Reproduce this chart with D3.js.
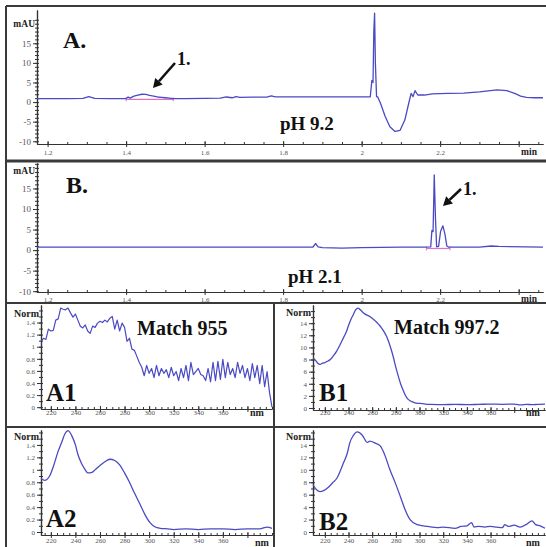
<!DOCTYPE html>
<html><head><meta charset="utf-8">
<script src="https://cdn.jsdelivr.net/npm/d3@7"></script>
<style>
body{margin:0;background:#fff}
svg{display:block}
text{font-family:"Liberation Serif","Times New Roman",serif}
</style>
</head><body>
<svg id="c" width="546" height="547"></svg>
<script>
// ---------------- DATA ----------------
// Chromatogram A (pH 9.2): [time (min), mAU]
const chromA = [[1.173,0.9],[1.25,0.9],[1.29,0.95],[1.305,1.4],[1.32,0.95],[1.36,0.9],[1.40,0.9],[1.405,1.3],[1.41,1.0],
 [1.42,1.5],[1.43,1.8],[1.44,2.0],[1.45,1.95],[1.46,1.7],[1.47,1.5],[1.48,1.3],[1.49,1.2],[1.50,1.1],[1.51,1.0],[1.52,0.9],
 [1.55,0.9],[1.60,0.95],[1.64,1.0],[1.655,1.3],[1.67,1.1],[1.68,1.4],[1.69,1.2],[1.72,1.25],[1.76,1.3],[1.77,1.6],[1.78,1.35],
 [1.85,1.35],[1.95,1.35],[2.022,1.35],[2.026,5.5],[2.029,5.0],[2.031,18],[2.033,22.7],[2.035,10],[2.038,1.4],[2.041,1.3],
 [2.048,-0.3],[2.06,-3.7],[2.072,-6.3],[2.085,-7.5],[2.098,-7.2],[2.11,-4.6],[2.12,-0.3],[2.126,2.2],[2.131,1.4],[2.136,2.9],
 [2.143,1.8],[2.16,1.8],[2.18,2.1],[2.22,2.2],[2.26,2.3],[2.30,2.6],[2.345,3.1],[2.37,2.9],[2.39,2.2],[2.405,1.5],[2.42,1.2],[2.44,1.1],[2.462,1.1]];
// Chromatogram B (pH 2.1)
const chromB = [[1.173,0.7],[1.5,0.7],[1.8,0.7],[1.876,0.75],[1.883,1.6],[1.889,0.8],[1.9,0.6],[1.95,0.5],[2.0,0.6],[2.1,0.7],
 [2.16,0.7],[2.176,0.8],[2.179,4.8],[2.182,4.5],[2.185,18.3],[2.188,8],[2.191,0.8],[2.196,0.9],[2.201,4.5],[2.207,5.9],
 [2.212,4.0],[2.217,1.0],[2.222,0.7],[2.30,0.7],[2.33,1.0],[2.35,0.9],[2.462,0.7]];
const integA = [[1.40,0.7],[1.52,0.7]];
const integB = [[2.165,0.4],[2.225,0.4]];

const chromXTicks = [1.2,1.4,1.6,1.8,2.0,2.2,2.4];
const chromXLabels = ["1.2","1.4","1.6","1.8","2","2.2",""];
const chromYTicks = [-10,-5,0,5,10,15];

// UV spectra: [wavelength (nm), Norm]
const specA1 = [[212,1.09],[214,1.14],[216,1.12],[218,1.29],[220,1.26],[222,1.27],[224,1.44],[226,1.46],[228,1.64],[230,1.62],
 [232,1.61],[234,1.64],[236,1.56],[238,1.49],[240,1.54],[242,1.44],[244,1.34],[246,1.31],[248,1.36],[250,1.26],[252,1.22],
 [254,1.34],[256,1.32],[258,1.39],[260,1.42],[262,1.4],[264,1.44],[266,1.41],[268,1.47],[270,1.5],[272,1.29],[274,1.44],
 [276,1.26],[278,1.39],[280,1.32],[282,1.09],[284,1.14],[286,0.96],[288,0.94],[290,0.84],[292,0.74],[294,0.66],[296,0.52],
 [298,0.69],[300,0.56],[302,0.64],[304,0.49],[306,0.69],[308,0.52],[310,0.64],[312,0.56],[314,0.62],[316,0.49],[318,0.66],
 [320,0.52],[322,0.59],[324,0.44],[326,0.64],[328,0.49],[330,0.69],[332,0.44],[334,0.74],[336,0.54],[338,0.59],[340,0.64],
 [342,0.54],[344,0.52],[346,0.44],[348,0.64],[350,0.42],[352,0.74],[354,0.44],[356,0.76],[358,0.46],[360,0.79],[362,0.49],
 [364,0.74],[366,0.54],[368,0.64],[370,0.49],[372,0.74],[374,0.56],[376,0.69],[378,0.49],[380,0.64],[382,0.44],[384,0.72],
 [386,0.49],[388,0.69],[390,0.39],[392,0.69],[394,0.34],[396,0.59],[398,0.24],[400,0.0]];
const specB1 = [[210,8.3],[212,7.9],[214,7.4],[216,7.2],[218,7.4],[220,7.5],[222,7.7],[224,7.9],[226,8.3],[228,8.8],
 [230,9.4],[232,10.1],[234,10.9],[236,11.7],[238,12.5],[240,13.6],[242,14.6],[244,15.4],[246,16.2],[248,16.5],[250,16.2],
 [252,15.8],[254,15.5],[256,15.3],[258,15.1],[260,14.8],[262,14.5],[264,14.1],[266,13.7],[268,13.2],[270,12.6],[272,11.9],
 [274,10.9],[276,9.7],[278,8.3],[280,6.7],[282,5.3],[284,4.0],[286,3.0],[288,2.1],[290,1.5],[292,1.2],[294,1.0],[296,0.85],
 [300,0.75],[305,0.65],[310,0.6],[320,0.55],[330,0.6],[340,0.55],[350,0.6],[360,0.65],[370,0.6],[380,0.65],[386,0.5],
 [390,0.6],[395,0.55],[400,0.6],[406,0.65]];
const specA2 = [[212,0.86],[215,0.83],[219,0.9],[222,1.05],[226,1.3],[229,1.45],[231.5,1.58],[234,1.63],[237,1.55],
 [240,1.4],[242,1.25],[245,1.1],[248,1.0],[250,0.95],[253.5,0.96],[256,1.0],[260,1.07],[264,1.13],[268,1.17],[272,1.15],
 [276,1.08],[280,0.95],[284,0.8],[288,0.63],[292.5,0.45],[296.6,0.28],[300.7,0.15],[305,0.08],[309,0.06],[315,0.05],
 [320,0.04],[330,0.05],[340,0.04],[350,0.05],[360,0.05],[370,0.04],[380,0.05],[390,0.05],[396,0.08],[400,0.06]];
const specB2 = [[210,7.6],[213,6.8],[216,6.5],[218.5,6.6],[223,7.2],[227,8.0],[230,8.6],[233,9.8],[235.5,11.0],[239,12.7],
 [241,14.3],[244,15.5],[247.5,16.1],[251.5,15.6],[256,14.4],[258,14.6],[262.5,14.3],[267,13.8],[271,12.2],[275,10.0],
 [279.5,7.9],[284,5.6],[288,3.5],[292,2.0],[298,1.2],[307,0.9],[315,0.7],[320,0.8],[330,0.6],[335,0.9],[340,1.0],[344,1.5],
 [346,0.8],[350,0.9],[355,0.8],[360,0.9],[365,0.8],[370,0.7],[372,1.2],[375,0.9],[380,1.1],[385,0.8],[390,1.2],[395,1.8],
 [398,1.2],[402,1.0],[406,0.6]];

const nmTicks = [220,240,260,280,300,320,340,360,380];
const nmLabels = ["220","240","260","280","300","320","340","360",""];
const normTicksA = [0,0.2,0.4,0.6,0.8,1,1.2,1.4];
const normTicksB = [0,2,4,6,8,10,12,14];

// ---------------- DRAW ----------------
const svg = d3.select("#c");
const BLUE = "#4a4ac4", PINK = "#e070c8", AX = "#333", TXT = "#555";

function styleAxis(g, fs){
  g.select(".domain").attr("stroke", AX).attr("stroke-width", 1.2);
  g.selectAll(".tick line").attr("stroke", AX);
  g.selectAll(".tick text").attr("fill", TXT).attr("font-size", fs).attr("font-family", '"Liberation Serif",serif');
}

function panel(o){
  const g = svg.append("g");
  g.append("rect").attr("x", o.bx).attr("y", o.by).attr("width", o.bw).attr("height", o.bh).attr("fill", "#fff");
  const x = d3.scaleLinear().domain(o.xDomain).range([o.left, o.right]);
  const y = d3.scaleLinear().domain(o.yDomain).range([o.bottom, o.top]);
  const xm = g.append("g").attr("transform", `translate(0,${o.bottom})`)
    .call(d3.axisBottom(x).tickValues(o.xMinor).tickFormat("").tickSize(-2).tickSizeOuter(0));
  styleAxis(xm, 7);
  const xa = g.append("g").attr("transform", `translate(0,${o.bottom})`)
    .call(d3.axisBottom(x).tickValues(o.xTicks).tickFormat((d,i)=>o.xLabels[i]).tickSize(3).tickSizeOuter(0));
  styleAxis(xa, o.xfs);
  xa.selectAll(".tick line").attr("y1", -3).attr("y2", 3);
  xa.selectAll(".tick text").attr("y", o.xLabY).attr("dy", "0.71em");
  const ym = g.append("g").attr("transform", `translate(${o.left},0)`)
    .call(d3.axisLeft(y).tickValues(o.yMinor).tickFormat("").tickSize(2).tickSizeOuter(0));
  styleAxis(ym, 7);
  ym.selectAll(".tick line").attr("x1", 2).attr("x2", -2);
  const ya = g.append("g").attr("transform", `translate(${o.left},0)`)
    .call(d3.axisLeft(y).tickValues(o.yTicks).tickFormat(o.yFmt).tickSize(4).tickSizeOuter(0).tickPadding(2));
  styleAxis(ya, o.yfs);
  g.append("text").attr("x", o.left - 2).attr("y", o.top + o.unitDy).attr("text-anchor", "end")
    .attr("font-size", o.unitFs).attr("font-weight", "bold").attr("fill", "#222").text(o.yUnit);
  g.append("text").attr("x", o.xUnitX).attr("y", o.bottom + o.xUnitDy).attr("text-anchor", "middle")
    .attr("font-size", o.unitFs).attr("font-weight", "bold").attr("fill", "#222").text(o.xUnit);
  (o.extra || []).forEach(e => {
    g.append("path").datum(e).attr("fill", "none").attr("stroke", PINK).attr("stroke-width", 1.2)
      .attr("d", d3.line().x(d=>x(d[0])).y(d=>y(d[1])));
    [e[0], e[e.length-1]].forEach(p => g.append("line").attr("x1", x(p[0])).attr("x2", x(p[0]))
      .attr("y1", y(p[1])-2).attr("y2", y(p[1])+2).attr("stroke", PINK));
  });
  g.append("path").datum(o.data).attr("fill", "none").attr("stroke", BLUE).attr("stroke-width", o.lw || 1.3)
    .attr("stroke-linejoin", "round")
    .attr("d", d3.line().x(d=>x(d[0])).y(d=>y(d[1])).curve(o.curve || d3.curveLinear));
  return {g, x, y};
}

function label(t, x, y, fs){
  svg.append("text").attr("x", x).attr("y", y).attr("font-size", fs).attr("font-weight", "bold").attr("fill", "#111").text(t);
}
function arrow(x1, y1, x2, y2){
  const ang = Math.atan2(y2 - y1, x2 - x1), L = 9, W = 5;
  const bx = x2 - L*Math.cos(ang), by = y2 - L*Math.sin(ang);
  svg.append("line").attr("x1", x1).attr("y1", y1).attr("x2", bx).attr("y2", by).attr("stroke", "#111").attr("stroke-width", 2.6);
  const px = -Math.sin(ang)*W, py = Math.cos(ang)*W;
  svg.append("path").attr("d", `M${x2},${y2}L${bx+px},${by+py}L${bx-px},${by-py}Z`).attr("fill", "#111");
}

const chromMinorX = d3.range(1.2, 2.46, 0.05).map(v => +v.toFixed(2));
const chromMinorY = d3.range(-10, 22, 1);

// Panel A
panel({bx:6, by:6, bw:540, bh:155, xDomain:[1.173,2.462], left:37, right:543, yDomain:[-10.7,23.5], bottom:144, top:10,
  xTicks:chromXTicks, xLabels:chromXLabels, xMinor:chromMinorX, yTicks:chromYTicks, yMinor:chromMinorY, yFmt:d=>d,
  xfs:7, yfs:9, unitFs:9.5, yUnit:"mAU", unitDy:17, xUnit:"min", xUnitX:529, xUnitDy:11, xLabY:6,
  data:chromA, extra:[integA]});
// Panel B
panel({bx:6, by:161, bw:540, bh:142, xDomain:[1.173,2.462], left:37, right:543, yDomain:[-10.2,21.2], bottom:292, top:163,
  xTicks:chromXTicks, xLabels:chromXLabels, xMinor:chromMinorX, yTicks:chromYTicks, yMinor:chromMinorY, yFmt:d=>d,
  xfs:7, yfs:9, unitFs:9.5, yUnit:"mAU", unitDy:11, xUnit:"min", xUnitX:529, xUnitDy:10, xLabY:5,
  data:chromB, extra:[integB]});

const nmMinor = d3.range(215, 401, 5);
// A1
panel({bx:6, by:303, bw:268, bh:124, xDomain:[212,400], left:41, right:272, yDomain:[-0.03,1.69], bottom:409, top:305,
  xTicks:nmTicks, xLabels:nmLabels, xMinor:nmMinor, yTicks:normTicksA, yMinor:d3.range(0,1.65,0.1), yFmt:d=>d3.format("~g")(d),
  xfs:7, yfs:7, unitFs:10, yUnit:"Norm", unitDy:12, xUnit:"nm", xUnitX:257, xUnitDy:7, xLabY:1.5,
  data:specA1, lw:1.2});
// B1
panel({bx:274, by:303, bw:272, bh:124, xDomain:[210,406], left:313, right:545, yDomain:[-0.33,17.0], bottom:410, top:305,
  xTicks:nmTicks, xLabels:nmLabels, xMinor:d3.range(215,406,5), yTicks:normTicksB, yMinor:d3.range(0,17,1), yFmt:d=>d,
  xfs:7, yfs:7, unitFs:10, yUnit:"Norm", unitDy:11, xUnit:"nm", xUnitX:533, xUnitDy:6, xLabY:0.5,
  data:specB1, curve:d3.curveMonotoneX});
// A2
panel({bx:6, by:427, bw:268, bh:120, xDomain:[212,400], left:41, right:272, yDomain:[-0.048,1.64], bottom:535, top:430,
  xTicks:nmTicks, xLabels:nmLabels, xMinor:nmMinor, yTicks:normTicksA, yMinor:d3.range(0,1.65,0.1), yFmt:d=>d3.format("~g")(d),
  xfs:7, yfs:7, unitFs:10, yUnit:"Norm", unitDy:10, xUnit:"nm", xUnitX:262, xUnitDy:11, xLabY:3.5,
  data:specA2, curve:d3.curveMonotoneX});
// B2
panel({bx:274, by:427, bw:272, bh:120, xDomain:[210,406], left:313, right:545, yDomain:[-0.48,16.4], bottom:535, top:430,
  xTicks:nmTicks, xLabels:nmLabels, xMinor:d3.range(215,406,5), yTicks:normTicksB, yMinor:d3.range(0,16.5,1), yFmt:d=>d,
  xfs:7, yfs:7, unitFs:10, yUnit:"Norm", unitDy:10, xUnit:"nm", xUnitX:533, xUnitDy:11, xLabY:3,
  data:specB2, curve:d3.curveMonotoneX});

// Frame lines
const frame = [[6,6,546,6,2],[6,6,6,547,2],[6,161,546,161,3],[6,303,546,303,2],[6,427,546,427,2],[274,303,274,547,2]];
frame.forEach(f => svg.append("line").attr("x1",f[0]).attr("y1",f[1]).attr("x2",f[2]).attr("y2",f[3]).attr("stroke","#3a3a3a").attr("stroke-width",f[4]));

// Annotations
label("A.", 63, 48, 24);
label("1.", 177, 65, 18);
arrow(175, 63, 153, 88);
label("pH 9.2", 280, 130, 19);
label("B.", 66, 193, 24);
label("1.", 463, 195, 18);
arrow(461, 189, 443, 206);
label("pH 2.1", 288, 283, 19);
label("Match 955", 137, 335, 20);
label("A1", 46, 401, 25);
label("Match 997.2", 394, 334, 20);
label("B1", 319, 401, 25);
label("A2", 46, 527, 25);
label("B2", 319, 530, 25);
</script>
</body></html>
